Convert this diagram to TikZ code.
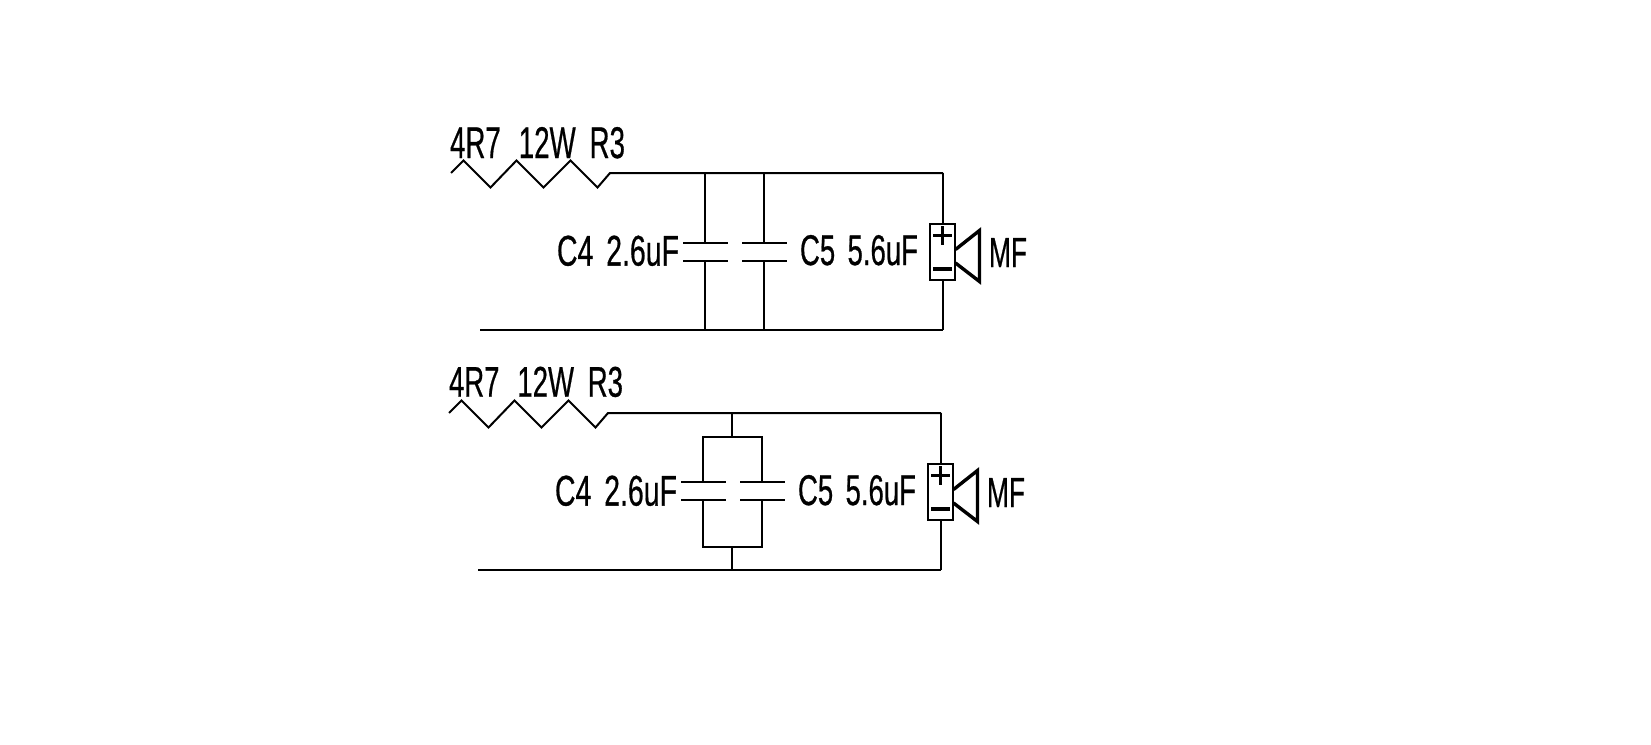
\documentclass[tikz,border=0pt]{standalone}
\usepackage{graphicx}
\usepackage{fontspec}
\setmainfont[FakeBold=0.7]{Liberation Sans}
\newcommand{\fitlabel}[3]{\resizebox{#1pt}{#2pt}{\fontsize{40pt}{44pt}\selectfont #3}}
\newcommand{\gapA}{\hspace{26pt}}
\newcommand{\gapB}{\hspace{20pt}}
\newcommand{\gapC}{\hspace{18pt}}
\tikzset{
  wire/.style={draw=black,line width=2pt,line cap=butt,line join=miter},
  heavy/.style={draw=black,line width=3.4pt,line join=miter},
  txt/.style={inner sep=0pt,outer sep=0pt,anchor=base west,text=black},
  plate/.pic={
    \coordinate (t) at (0,-9);
    \coordinate (b) at (0,9);
    \draw[wire] (-22,-9) -- (23,-9);
    \draw[wire] (-22,9) -- (23,9);
  },
  stage/.pic={
    \coordinate (in) at (451,173);
    \coordinate (rend) at (610,173);
    \coordinate (tr) at (943,173);
    \coordinate (bl) at (480,330);
    \coordinate (br) at (943,330);
    \draw[wire] (in) -- ++(12.5,-12.5) -- ++(27,27) -- ++(26,-27) -- ++(27,27)
      -- ++(27,-27) -- ++(27,27) -- (rend) -- (tr);
    \draw[wire] (bl) -- (br);
    \node[draw=black,line width=2pt,minimum width=25pt,minimum height=56pt,inner sep=0pt,outer sep=0pt] (spk) at (942.5,252) {};
    \draw[wire] (tr) -- (spk.north -| tr);
    \draw[wire] (spk.south -| br) -- (br);
    \draw[heavy] (933,235.5) -- (952,235.5);
    \draw[heavy] (942.3,226) -- (942.3,245);
    \draw[heavy] (933,269) -- (952,269);
    \draw[heavy] (955.5,249.5) -- (979.5,230.5) -- (979.5,281.5) -- (955.5,263);
    \node[txt] (c4) at (557,265.6) {\fitlabel{122}{30}{C4\gapC 2.6uF}};
    \node[txt] (c5) at (800,265) {\fitlabel{118}{30}{C5\gapC 5.6uF}};
    \node[txt] (mf) at (989,267) {\fitlabel{38}{29}{MF}};
  }
}
\begin{document}
\begin{tikzpicture}[x=1pt,y=-1pt]
\useasboundingbox (0,0) rectangle (1651,744);
\fill[white] (0,0) rectangle (1651,744);

% upper circuit
\pic (up-) at (0,0) {stage};
\node[txt] (uplabel) at (450,158) {\fitlabel{175}{31}{4R7\gapA 12W\gapB R3}};
\pic (ua-) at (705,252) {plate};
\pic (ub-) at (764,252) {plate};
\draw[wire] (ua-t |- up-tr) -- (ua-t);
\draw[wire] (ua-b) -- (ua-b |- up-br);
\draw[wire] (ub-t |- up-tr) -- (ub-t);
\draw[wire] (ub-b) -- (ub-b |- up-br);

% lower circuit
\pic (lo-) at (-2,240) {stage};
\node[txt] (lolabel) at (449,396.7) {\fitlabel{174}{30}{4R7\gapA 12W\gapB R3}};
\pic (la-) at (703,491) {plate};
\pic (lb-) at (762,491) {plate};
\coordinate (lotop) at (732,437);
\coordinate (lobot) at (732,547);
\draw[wire] (lotop |- lo-tr) -- (lotop);
\draw[wire] (lobot) -- (lobot |- lo-br);
\draw[wire] (la-t) -- (la-t |- lotop) -- (lb-t |- lotop) -- (lb-t);
\draw[wire] (la-b) -- (la-b |- lobot) -- (lb-b |- lobot) -- (lb-b);
\end{tikzpicture}
\end{document}
